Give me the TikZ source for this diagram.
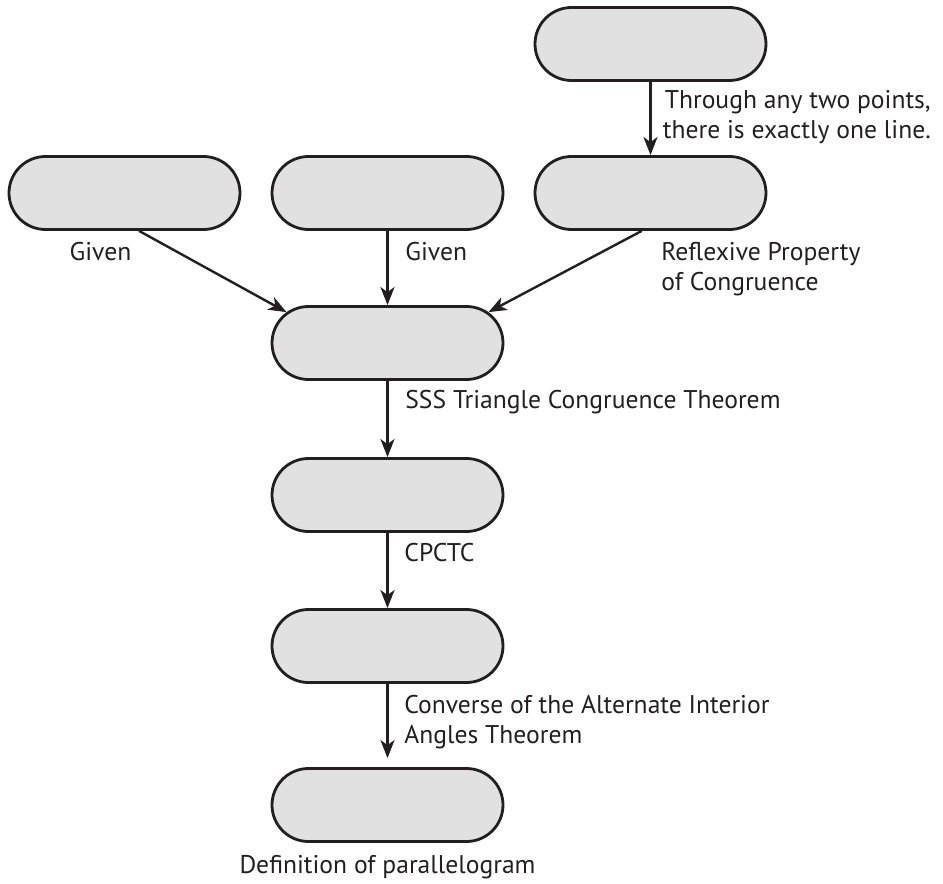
\documentclass[tikz,border=0pt]{standalone}
\usepackage{fontspec}
\setmainfont{PT Sans}
\usetikzlibrary{positioning,shapes.misc,arrows.meta}

\definecolor{ink}{HTML}{231F20}
\definecolor{boxgray}{HTML}{E1E1E1}

\tikzset{
  proofbox/.style={rounded rectangle, draw=ink, fill=boxgray, line width=1.4pt,
    minimum width=115.5pt, minimum height=36.5pt, inner sep=0pt},
  reason/.style={text=ink, font=\fontsize{12.8}{15}\selectfont, inner sep=0pt, align=left},
  arr/.style={-{Stealth[length=9pt,width=7pt,inset=2.5pt]}, draw=ink, line width=1.2pt}
}

\begin{document}
\begin{tikzpicture}

\useasboundingbox (-193.75pt,96.5pt) rectangle (277.75pt,-345.5pt);

\node[proofbox] (given2) at (0,0) {};

\node[proofbox,left= 14.6pt of given2] (given1) {};

\node[proofbox,right= 14.6pt of given2] (reflex) {};

\node[proofbox,above= 36.6pt of reflex] (points) {};

\node[proofbox,below= 37.1pt of given2] (sss) {};

\node[proofbox,below= 38.1pt of sss] (cpctc) {};

\node[proofbox,below= 37.6pt of cpctc] (converse) {};

\node[proofbox,below= 41.6pt of converse] (parallel) {};

% reasons

\node[reason,align=right,below right= 4.25pt and 6pt of points.south] (lpoints) {Through any two points,\\there is exactly one line.};

\node[reason,below= 5.25pt of given1.south,xshift=-12pt] (lgiven1) {Given};

\node[reason,below right= 5.25pt and 8.75pt of given2.south] (lgiven2) {Given};

\node[reason,below right= 5.25pt and 5.25pt of reflex.south] (lreflex) {Reflexive Property\\of Congruence};

\node[reason,below right= 4.5pt and 8.75pt of sss.south] (lsss) {SSS Triangle Congruence Theorem};

\node[reason,below right= 5pt and 8.25pt of cpctc.south] (lcpctc) {CPCTC};

\node[reason,below right= 5.5pt and 8.25pt of converse.south] (lconverse) {Converse of the Alternate Interior\\Angles Theorem};

\node[reason,below= 6.25pt of parallel.south] (lparallel) {Definition of parallelogram};

\draw[]

  % From the top box to the third box

  (points) edge[arr] (reflex)

  % From the three boxes to the SSS box

  (given1.-69) edge[arr] (sss.163)

  (given2) edge[arr] (sss)

  (reflex.-103) edge[arr] (sss.17)

  % Down the column

  (sss) edge[arr] (cpctc)

  (cpctc) edge[arr] (converse)

  (converse) edge[arr,shorten >=4.5pt] (parallel)

;

\end{tikzpicture}
\end{document}
